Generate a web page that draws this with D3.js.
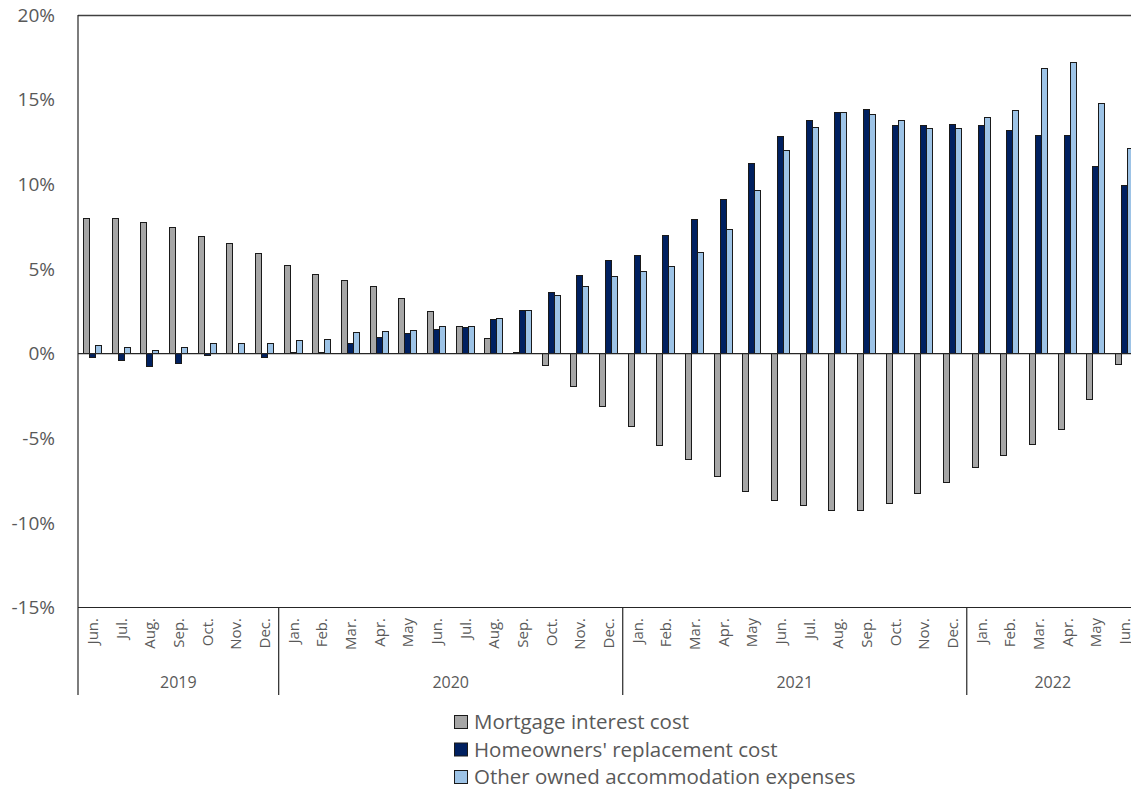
<!DOCTYPE html>
<html>
<head>
<meta charset="utf-8">
<script src="https://cdn.jsdelivr.net/npm/d3@7"></script>
<style>
  body { margin: 0; background: #fff; }
  svg { display: block; font-family: "Open Sans", sans-serif; }
</style>
</head>
<body>
<svg id="chart" width="1131" height="790"></svg>
<script>
const months = ["Jun.", "Jul.", "Aug.", "Sep.", "Oct.", "Nov.", "Dec.",
    "Jan.", "Feb.", "Mar.", "Apr.", "May", "Jun.", "Jul.", "Aug.", "Sep.", "Oct.", "Nov.", "Dec.",
    "Jan.", "Feb.", "Mar.", "Apr.", "May", "Jun.", "Jul.", "Aug.", "Sep.", "Oct.", "Nov.", "Dec.",
    "Jan.", "Feb.", "Mar.", "Apr.", "May", "Jun."];
const years = ["2019", "2020", "2021", "2022"];
const yearMonthCounts = [7, 12, 12, 7];

const seriesNames = ["Mortgage interest cost", "Homeowners' replacement cost", "Other owned accommodation expenses"];
const seriesColors = ["#a6a6a6", "#002060", "#9dc3e6"];

const mortgage = [8.0, 8.0, 7.77, 7.44, 6.89, 6.49, 5.94,
    5.23, 4.68, 4.29, 3.97, 3.27, 2.48, 1.61, 0.9, 0.06, -0.73, -1.95, -3.13,
    -4.32, -5.42, -6.28, -7.29, -8.17, -8.65, -8.96, -9.28, -9.28, -8.88, -8.25, -7.62,
    -6.74, -6.05, -5.4, -4.47, -2.74, -0.67];
const replacement = [-0.22, -0.38, -0.77, -0.61, -0.12, 0.0, -0.22,
    0.05, 0.05, 0.61, 0.93, 1.16, 1.45, 1.53, 2.0, 2.56, 3.58, 4.62, 5.49,
    5.81, 6.99, 7.93, 9.11, 11.24, 12.82, 13.78, 14.23, 14.41, 13.46, 13.46, 13.54,
    13.46, 13.15, 12.91, 12.91, 11.04, 9.92];
const otherExpenses = [0.45, 0.37, 0.21, 0.37, 0.61, 0.61, 0.61,
    0.76, 0.84, 1.23, 1.3, 1.38, 1.61, 1.61, 2.08, 2.56, 3.42, 3.99, 4.54,
    4.86, 5.17, 5.96, 7.3, 9.66, 11.97, 13.38, 14.23, 14.15, 13.76, 13.28, 13.31,
    13.93, 14.33, 16.85, 17.18, 14.78, 12.13];

const yTicks = [20, 15, 10, 5, 0, -5, -10, -15];

const svg = d3.select("#chart");
const plotLeft = 78, plotTop = 15, plotBottom = 607.5;
const step = 28.67;
const plotRight = plotLeft + step * months.length;

const keys = months.map((m, i) => i);
const x0 = d3.scaleBand().domain(keys).range([plotLeft, plotRight]);
const x1 = d3.scaleBand().domain([0, 1, 2]).range([0, x0.bandwidth()]).paddingOuter(0.89);
const y = d3.scaleLinear().domain([-15, 20]).range([plotBottom, plotTop]);

const textColor = "#595959";
const lineColor = "#262626";

// top border of plot area
svg.append("line")
    .attr("x1", plotLeft).attr("x2", plotRight)
    .attr("y1", plotTop + 0.5).attr("y2", plotTop + 0.5)
    .attr("stroke", "#404040").attr("stroke-width", 1.5);

// y labels
svg.append("g")
    .selectAll("text")
    .data(yTicks)
    .join("text")
    .attr("x", 55)
    .attr("y", d => y(d))
    .attr("dy", "0.35em")
    .attr("text-anchor", "end")
    .attr("fill", textColor)
    .style("font-size", "19px")
    .text(d => d + "%");

// bars
const allSeries = [mortgage, replacement, otherExpenses];
const barData = [];
keys.forEach(i => {
    allSeries.forEach((s, k) => barData.push({ i, k, v: s[i] }));
});

svg.append("g")
    .attr("shape-rendering", "crispEdges")
    .selectAll("rect")
    .data(barData)
    .join("rect")
    .attr("x", d => x0(d.i) + x1(d.k))
    .attr("width", x1.bandwidth())
    .attr("y", d => y(Math.max(0, d.v)))
    .attr("height", d => Math.abs(y(d.v) - y(0)))
    .attr("fill", d => seriesColors[d.k])
    .attr("stroke", "#1a1a1a")
    .attr("stroke-width", 1);

// zero line and bottom axis line
svg.append("line")
    .attr("x1", plotLeft).attr("x2", plotRight)
    .attr("y1", y(0)).attr("y2", y(0))
    .attr("stroke", lineColor).attr("stroke-width", 1.2);
svg.append("line")
    .attr("x1", plotLeft).attr("x2", plotRight)
    .attr("y1", y(-15)).attr("y2", y(-15))
    .attr("stroke", lineColor).attr("stroke-width", 1.2);

// left axis line
svg.append("line")
    .attr("x1", plotLeft).attr("x2", plotLeft)
    .attr("y1", plotTop).attr("y2", 695)
    .attr("stroke", lineColor).attr("stroke-width", 1.2);

// month labels
svg.append("g")
    .selectAll("text")
    .data(keys)
    .join("text")
    .attr("transform", i => `translate(${x0(i) + x0.bandwidth() / 2 + 5.5},618) rotate(-90)`)
    .attr("text-anchor", "end")
    .attr("fill", textColor)
    .style("font-size", "15px")
    .text(i => months[i]);

// year groups
let start = 0;
years.forEach((yr, j) => {
    const end = start + yearMonthCounts[j];
    const xs = x0(start);
    const xe = end < months.length ? x0(end) : plotRight;
    if (end < months.length) {
        svg.append("line")
            .attr("x1", xe).attr("x2", xe)
            .attr("y1", plotBottom).attr("y2", 695)
            .attr("stroke", lineColor).attr("stroke-width", 1.2);
    }
    svg.append("text")
        .attr("x", (xs + xe) / 2)
        .attr("y", 688)
        .attr("text-anchor", "middle")
        .attr("fill", textColor)
        .style("font-size", "16px")
        .text(yr);
    start = end;
});

// legend
const legend = svg.append("g").attr("transform", "translate(454,722)");
seriesNames.forEach((name, k) => {
    const g = legend.append("g").attr("transform", `translate(0,${k * 27.5})`);
    g.append("rect")
        .attr("x", 0.5).attr("y", -6.5)
        .attr("width", 13).attr("height", 13)
        .attr("fill", seriesColors[k])
        .attr("stroke", "#1a1a1a");
    g.append("text")
        .attr("x", 20)
        .attr("y", 0)
        .attr("dy", "0.35em")
        .attr("fill", textColor)
        .style("font-size", "20.5px")
        .text(name);
});
</script>
</body>
</html>
